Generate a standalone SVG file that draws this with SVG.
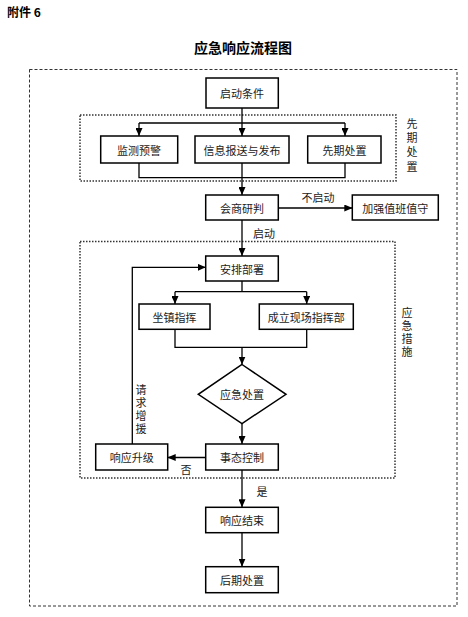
<svg xmlns="http://www.w3.org/2000/svg" width="468" height="617" viewBox="0 0 468 617">
<style>
text{font-family:"Noto Sans CJK SC","Noto Sans",sans-serif;fill:#222;}
.t{font-size:11px;text-anchor:middle;dominant-baseline:central;}
.lbl{font-size:11px;text-anchor:middle;dominant-baseline:central;}
.vt{font-size:11px;writing-mode:vertical-rl;text-anchor:start;}
.box{fill:#fff;stroke:#000;stroke-width:1.5;}
.ln{fill:none;stroke:#000;stroke-width:1.3;}
.outer{fill:none;stroke:#333;stroke-width:1;stroke-dasharray:3 2;}
.dot{fill:none;stroke:#333;stroke-width:1.5;stroke-dasharray:1.5 1.5;}
</style>
<defs>
<marker id="ah" markerWidth="8" markerHeight="7" refX="8" refY="3.5" orient="auto" markerUnits="userSpaceOnUse">
<path d="M0,0 L8,3.5 L0,7 z" fill="#000"/>
</marker>
</defs>
<rect width="468" height="617" fill="#fff"/>
<text x="7" y="17" style="font-size:12px;font-weight:bold;fill:#000">附件 6</text>
<text x="243" y="53" style="font-size:14px;font-weight:bold;text-anchor:middle;fill:#000">应急响应流程图</text>

<g id="frames">
<rect class="outer" x="29.5" y="69.5" width="427.5" height="536.5"/>
<rect class="dot" x="80" y="115" width="316" height="66"/>
<rect class="dot" x="80" y="241.5" width="315" height="236.5"/>
<text class="vt" x="412" y="118" style="letter-spacing:3.3px">先期处置</text>
<text class="vt" x="407" y="307.5" style="letter-spacing:2px">应急措施</text>
</g>

<g id="connectors">
<path class="ln" d="M242,108 V123"/>
<path class="ln" d="M139,123 H345"/>
<path class="ln" d="M139,123 V136" marker-end="url(#ah)"/>
<path class="ln" d="M242,123 V136" marker-end="url(#ah)"/>
<path class="ln" d="M345,123 V136" marker-end="url(#ah)"/>
<path class="ln" d="M139,163 V177.7 H345 V163"/>
<path class="ln" d="M242,163 V195" marker-end="url(#ah)"/>
<path class="ln" d="M278.3,208 H352.3" marker-end="url(#ah)"/>
<text class="lbl" x="318" y="197">不启动</text>
<path class="ln" d="M242,220 V256" marker-end="url(#ah)"/>
<text class="lbl" x="264" y="232.5">启动</text>
<path class="ln" d="M242,281 V291.7"/>
<path class="ln" d="M175,291.7 H306.7"/>
<path class="ln" d="M175,291.7 V304" marker-end="url(#ah)"/>
<path class="ln" d="M306.7,291.7 V304" marker-end="url(#ah)"/>
<path class="ln" d="M175,329.3 V347.3 H306.7 V329.3"/>
<path class="ln" d="M242,347.3 V364.5" marker-end="url(#ah)"/>
<path class="ln" d="M242,423.5 V444" marker-end="url(#ah)"/>
<path class="ln" d="M205.7,457.5 H167.7" marker-end="url(#ah)"/>
<text class="lbl" x="186" y="468.5">否</text>
<path class="ln" d="M132.3,444 V267.3 H205.7" marker-end="url(#ah)"/>
<text class="vt" x="141" y="384.5" style="letter-spacing:2px">请求增援</text>
<path class="ln" d="M242,470 V507.3" marker-end="url(#ah)"/>
<text class="lbl" x="262" y="490.5">是</text>
<path class="ln" d="M242,532.7 V566.7" marker-end="url(#ah)"/>
</g>

<g id="n_qidong"><rect class="box" x="206" y="78" width="72.3" height="30"/><text class="t" x="242" y="93">启动条件</text></g>
<g id="n_jiance"><rect class="box" x="100.7" y="136" width="77" height="27"/><text class="t" x="139" y="149.5">监测预警</text></g>
<g id="n_xinxi"><rect class="box" x="195" y="136" width="94" height="27"/><text class="t" x="242" y="149.5">信息报送与发布</text></g>
<g id="n_xianqi"><rect class="box" x="307.7" y="136" width="73.3" height="27"/><text class="t" x="344.5" y="149.5">先期处置</text></g>
<g id="n_huishang"><rect class="box" x="205.7" y="195" width="72.6" height="25"/><text class="t" x="242" y="207.5">会商研判</text></g>
<g id="n_jiaqiang"><rect class="box" x="352.3" y="195" width="86" height="25"/><text class="t" x="395.3" y="207.5">加强值班值守</text></g>
<g id="n_anpai"><rect class="box" x="205.7" y="256" width="72.6" height="25"/><text class="t" x="242" y="268.5">安排部署</text></g>
<g id="n_zuozhen"><rect class="box" x="139" y="304" width="71" height="25.3"/><text class="t" x="174.5" y="316.7">坐镇指挥</text></g>
<g id="n_chengli"><rect class="box" x="259.3" y="304" width="94" height="25.3"/><text class="t" x="306.3" y="316.7">成立现场指挥部</text></g>
<g id="n_yingji"><path class="box" d="M242,364.5 L286,394.3 L242,423.5 L198.3,394.3 Z"/><text class="t" x="242" y="394.3">应急处置</text></g>
<g id="n_shitai"><rect class="box" x="205.7" y="444" width="72.6" height="26"/><text class="t" x="242" y="457">事态控制</text></g>
<g id="n_shengji"><rect class="box" x="95.7" y="444" width="72" height="26"/><text class="t" x="131.7" y="457">响应升级</text></g>
<g id="n_jieshu"><rect class="box" x="205.7" y="507.3" width="72.6" height="25.4"/><text class="t" x="242" y="520">响应结束</text></g>
<g id="n_houqi"><rect class="box" x="205.7" y="566.7" width="72.6" height="26"/><text class="t" x="242" y="579.7">后期处置</text></g>
</svg>
